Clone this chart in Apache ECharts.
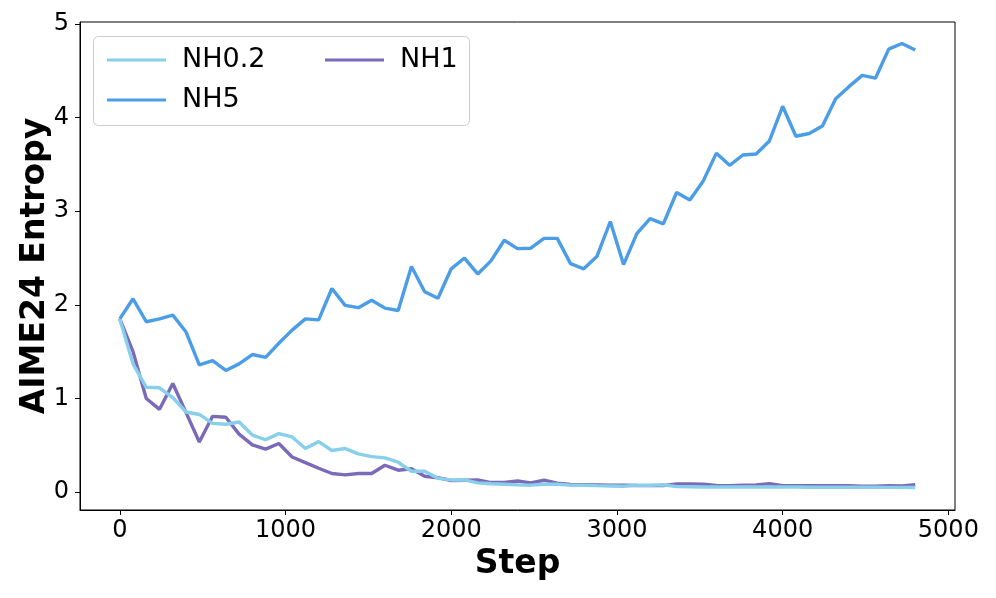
<!DOCTYPE html>
<html>
<head>
<meta charset="utf-8">
<script src="https://cdn.jsdelivr.net/npm/echarts@6/dist/echarts.min.js"></script>
<style>html,body{margin:0;padding:0;background:#fff}#c{width:996px;height:598px}</style>
</head>
<body>
<div id="c"></div>
<script>
var steps = [0,80,160,240,320,400,480,560,640,720,800,880,960,1040,1120,1200,1280,1360,1440,1520,1600,1680,1760,1840,1920,2000,2080,2160,2240,2320,2400,2480,2560,2640,2720,2800,2880,2960,3040,3120,3200,3280,3360,3440,3520,3600,3680,3760,3840,3920,4000,4080,4160,4240,4320,4400,4480,4560,4640,4720,4800];
var nh02 = [1.85,1.37,1.12,1.115,1.01,0.856,0.83,0.735,0.725,0.75,0.61,0.56,0.625,0.59,0.466,0.54,0.445,0.466,0.41,0.38,0.366,0.32,0.224,0.224,0.149,0.131,0.131,0.10,0.09,0.085,0.078,0.075,0.085,0.085,0.075,0.075,0.07,0.067,0.064,0.075,0.075,0.08,0.06,0.058,0.055,0.055,0.055,0.055,0.055,0.055,0.055,0.055,0.053,0.053,0.053,0.053,0.053,0.053,0.052,0.052,0.05];
var nh1 = [1.85,1.5,1.00,0.885,1.16,0.85,0.536,0.81,0.80,0.62,0.505,0.46,0.52,0.376,0.316,0.256,0.20,0.185,0.20,0.20,0.288,0.235,0.25,0.17,0.155,0.125,0.128,0.13,0.103,0.103,0.12,0.10,0.128,0.096,0.082,0.08,0.078,0.076,0.075,0.072,0.07,0.07,0.088,0.088,0.085,0.072,0.07,0.075,0.078,0.09,0.07,0.07,0.07,0.07,0.07,0.07,0.065,0.065,0.07,0.068,0.08];
var nh5 = [1.85,2.065,1.82,1.85,1.89,1.71,1.36,1.405,1.30,1.37,1.47,1.44,1.59,1.73,1.85,1.84,2.175,1.995,1.97,2.05,1.965,1.94,2.41,2.14,2.07,2.385,2.50,2.33,2.47,2.69,2.60,2.605,2.71,2.71,2.44,2.385,2.52,2.89,2.43,2.76,2.92,2.865,3.20,3.12,3.32,3.62,3.49,3.60,3.61,3.75,4.12,3.80,3.83,3.91,4.20,4.33,4.45,4.42,4.73,4.79,4.72];
var xTicks = [0,1000,2000,3000,4000,5000];
var yTicks = [0,1,2,3,4,5];

function pairs(xs, ys){ return xs.map(function(x,i){ return [x, ys[i]]; }); }

var FONT = 'DejaVu Sans';
var C02 = '#87cfeb', C1 = '#7a6ab8', C5 = '#4a9de6';
var LW = 3.4;
var chart = echarts.init(document.getElementById('c'), null, {renderer:'canvas'});
chart.setOption({
  animation:false,
  backgroundColor:'#fff',
  grid:{left:80, right:41, top:22, bottom:88, show:true, borderColor:'#000', borderWidth:1, backgroundColor:'transparent'},
  xAxis:{type:'value', min:-240, max:5040,
    name:'Step', nameLocation:'middle', nameGap:38, nameMoveOverlap:false,
    nameTextStyle:{fontFamily:FONT, fontWeight:'bold', fontSize:33, color:'#000'},
    axisLine:{show:true, onZero:false, lineStyle:{color:'#000', width:1}},
    axisTick:{show:true, length:5, lineStyle:{color:'#000'}, customValues:xTicks},
    axisLabel:{fontFamily:FONT, fontSize:24, color:'#000', margin:9, customValues:xTicks,
      formatter:function(v){ return String(v); }},
    splitLine:{show:false}},
  yAxis:{type:'value', min:-0.19, max:5.02,
    name:'AIME24 Entropy', nameLocation:'middle', nameGap:28, nameMoveOverlap:false,
    nameTextStyle:{fontFamily:FONT, fontWeight:'bold', fontSize:33, color:'#000'},
    axisLine:{show:true, onZero:false, lineStyle:{color:'#000', width:1}},
    axisTick:{show:true, length:5, lineStyle:{color:'#000'}, customValues:yTicks},
    axisLabel:{fontFamily:FONT, fontSize:24, color:'#000', margin:11, customValues:yTicks,
      formatter:function(v){ return String(v); }},
    splitLine:{show:false}},
  graphic:[{type:'rect', left:93, top:36, z:50,
    shape:{width:376, height:89, r:5},
    style:{fill:'rgba(255,255,255,0.85)', stroke:'#cccccc', lineWidth:1}}],
  legend:[
    {data:['NH0.2','NH5'], orient:'vertical', left:102, top:40, z:60,
     icon:'rect', itemWidth:59, itemHeight:3, itemGap:10,
     textStyle:{fontFamily:FONT, fontSize:27, color:'#000', lineHeight:30, padding:[0,0,0,11]}},
    {data:['NH1'], orient:'vertical', left:320, top:40, z:60,
     icon:'rect', itemWidth:59, itemHeight:3, itemGap:10,
     textStyle:{fontFamily:FONT, fontSize:27, color:'#000', lineHeight:30, padding:[0,0,0,11]}}
  ],
  series:[
    {name:'NH5', type:'line', data:pairs(steps, nh5), showSymbol:false, symbol:'none', z:3,
     color:C5, lineStyle:{color:C5, width:LW}},
    {name:'NH1', type:'line', data:pairs(steps, nh1), showSymbol:false, symbol:'none', z:4,
     color:C1, lineStyle:{color:C1, width:LW}},
    {name:'NH0.2', type:'line', data:pairs(steps, nh02), showSymbol:false, symbol:'none', z:5,
     color:C02, lineStyle:{color:C02, width:LW}}
  ]
});
</script>
</body>
</html>
